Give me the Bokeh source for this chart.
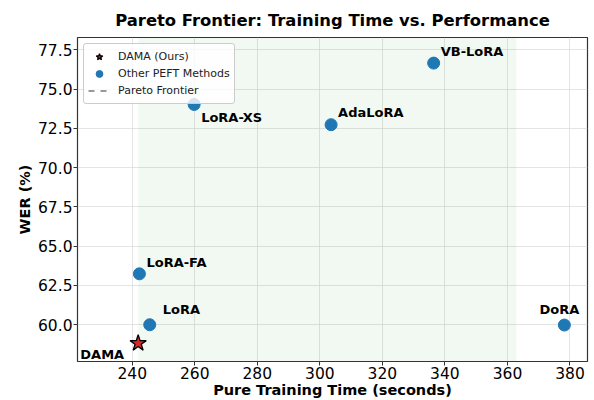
from bokeh.plotting import figure
from bokeh.models import Range1d, FixedTicker, BoxAnnotation, ColumnDataSource, Legend, LegendItem, NumeralTickFormatter
from bokeh.core.properties import value
from bokeh.embed import file_html
from bokeh.resources import INLINE

# ---- data ----
dama_name = "DAMA"
dama_time = 241.9
dama_wer = 58.82

methods = ["LoRA", "LoRA-FA", "LoRA-XS", "AdaLoRA", "VB-LoRA", "DoRA"]
times = [245.6, 242.3, 259.8, 303.6, 336.4, 378.2]
wers = [60.0, 63.24, 74.02, 72.73, 76.65, 59.98]

x_ticks = [240, 260, 280, 300, 320, 340, 360, 380]
y_ticks = [60.0, 62.5, 65.0, 67.5, 70.0, 72.5, 75.0, 77.5]

# label styling (pixel offsets, alignment)
lab_dx = [13, 7, 7, 7, 7, -5]
lab_dy = [-15, -11, 13, -12, -12, -16]
lab_align = ["left", "left", "left", "left", "left", "center"]

FONT = "DejaVu Sans"

p = figure(width=594, height=400, output_backend="svg", toolbar_location=None,
           x_range=Range1d(222.5, 385.6), y_range=Range1d(57.66, 78.28),
           title="Pareto Frontier: Training Time vs. Performance")

p.title.align = "center"
p.title.text_font = FONT
p.title.text_font_size = "16.4px"
p.title.text_font_style = "bold"
p.title.text_color = "black"
p.title.standoff = 16

p.min_border_right = 7
p.min_border_left = 77
p.min_border_bottom = 39
p.min_border_top = 35

# shaded region: from DAMA time up to 1.5x
shade = BoxAnnotation(left=dama_time, right=dama_time * 1.5, fill_color="green",
                      fill_alpha=0.05, line_color=None, level="underlay")
p.add_layout(shade)

for ax in (p.xaxis[0], p.yaxis[0]):
    ax.axis_label_text_font = FONT
    ax.axis_label_text_font_style = "bold"
    ax.axis_label_text_font_size = "14.5px"
    ax.axis_label_text_color = "black"
    ax.major_label_text_font = FONT
    ax.major_label_text_font_size = "15.5px"
    ax.major_label_text_color = "black"
    ax.minor_tick_line_color = None
    ax.major_tick_line_color = "#333333"
    ax.major_tick_out = 4
    ax.major_tick_in = 0
    ax.axis_line_color = None

p.xaxis.major_label_standoff = 1
p.xaxis.axis_label_standoff = 0
p.xaxis.axis_label_text_line_height = 0.8
p.xaxis.major_label_text_line_height = 0.8
p.yaxis.major_label_standoff = 1
p.yaxis.axis_label_standoff = 2

p.xaxis.axis_label = "Pure Training Time (seconds)"
p.yaxis.axis_label = "WER (%)"
p.xaxis.ticker = FixedTicker(ticks=x_ticks)
p.yaxis.ticker = FixedTicker(ticks=y_ticks)
p.yaxis.formatter = NumeralTickFormatter(format="0.0")

p.xgrid.ticker = FixedTicker(ticks=x_ticks)
p.ygrid.ticker = FixedTicker(ticks=y_ticks)
p.grid.grid_line_color = "#d9d9d9"
p.grid.grid_line_alpha = 0.7

p.outline_line_color = "#333333"
p.outline_line_width = 1.2
p.outline_line_alpha = 1.0

# pareto frontier (only DAMA is Pareto-optimal)
pareto = p.line(x=[dama_time], y=[dama_wer], line_color="gray", line_dash="dashed",
                line_width=2, line_alpha=0.8)

src = ColumnDataSource(dict(x=times, y=wers, name=methods, dx=lab_dx, dy=lab_dy, align=lab_align))
others = p.scatter("x", "y", source=src, size=12, fill_color="#1f77b4", line_color="#1f77b4",
                   line_width=1)

dama = p.scatter(x=[dama_time], y=[dama_wer], marker="star", size=17, fill_color="#d62728",
                 line_color="black", line_width=1.3)

p.text("x", "y", text="name", source=src, x_offset="dx", y_offset="dy", text_align="align",
       text_baseline="middle", text_font=value(FONT), text_font_style="bold",
       text_font_size="13px", text_color="black")
p.text(x=[dama_time], y=[dama_wer], text=[dama_name], x_offset=-14, y_offset=11,
       text_align="right", text_baseline="middle", text_font=value(FONT),
       text_font_style="bold", text_font_size="13px", text_color="black")

legend = Legend(items=[
    LegendItem(label="DAMA (Ours)", renderers=[dama]),
    LegendItem(label="Other PEFT Methods", renderers=[others]),
    LegendItem(label="Pareto Frontier", renderers=[pareto]),
], location="top_left")
legend.label_text_font = FONT
legend.label_text_font_size = "11px"
legend.label_text_color = "#222222"
legend.label_height = 14
legend.glyph_height = 17
legend.glyph_width = 22
legend.spacing = 0
legend.padding = 4
legend.margin = 6
legend.label_standoff = 8
legend.border_line_color = "#cccccc"
legend.border_line_alpha = 1
legend.background_fill_alpha = 0.8
legend.border_radius = 3
p.add_layout(legend)

open("out.html", "w").write(file_html(p, INLINE))
